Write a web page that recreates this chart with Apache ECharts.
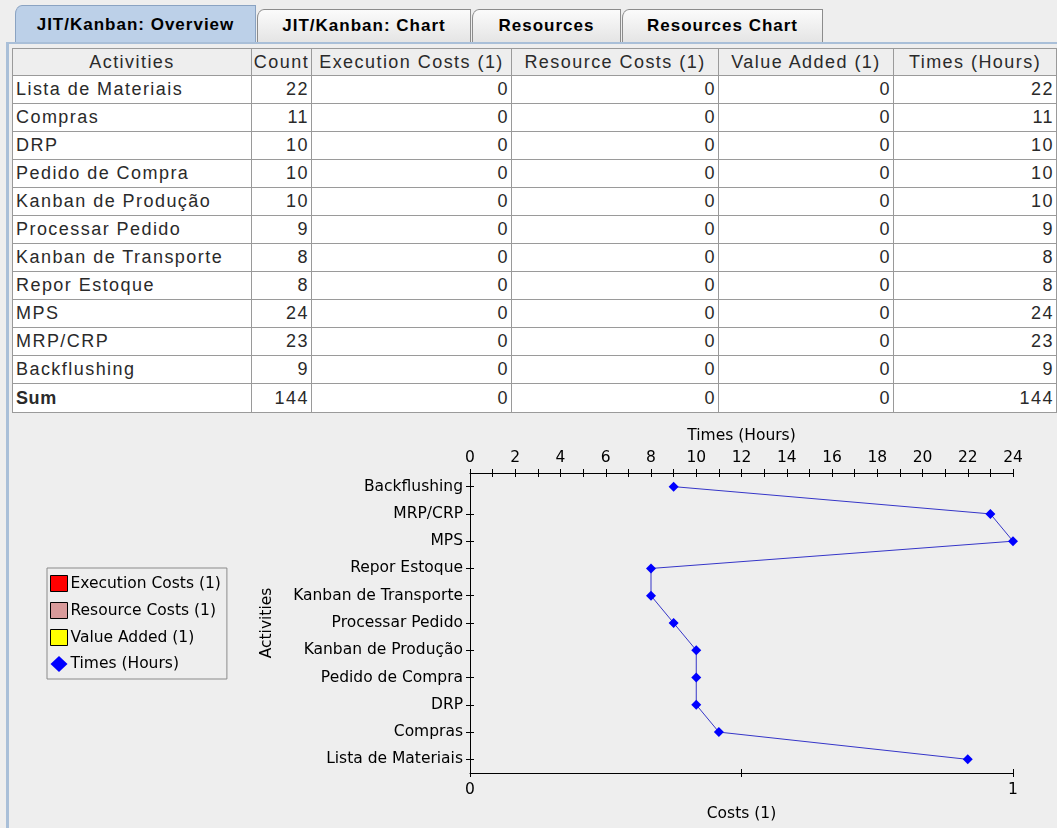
<!DOCTYPE html>
<html>
<head>
<meta charset="utf-8">
<script src="https://cdn.jsdelivr.net/npm/echarts@6/dist/echarts.min.js"></script>
<style>
  html, body { margin:0; padding:0; background:#eeeeee; width:1057px; height:828px; overflow:hidden; }
  body { position:relative; font-family:"Liberation Sans", Arial, sans-serif; }
  .tab { position:absolute; box-sizing:border-box; border:1px solid #8c8c8c; border-bottom:none;
         background:linear-gradient(#fbfbfb,#e4e4e4); font-weight:bold; font-size:17px; letter-spacing:1px;
         color:#000; text-align:center; border-top-left-radius:7px 9px; }
  .tab.sel { background:#bcd0e8; border-color:#8aa3c2; }
  #paneTop { position:absolute; left:6px; top:42px; width:1051px; height:2px; background:#a9bfd8; }
  #paneLeft { position:absolute; left:6px; top:42px; width:3px; height:786px; background:#a9bfd8; }
  table { position:absolute; left:12px; top:48px; width:1044px; border-collapse:collapse; table-layout:fixed;
          font-size:18px; letter-spacing:1.45px; color:#2a2a2a; background:#fff; border:1px solid #7a7a7a; }
  th { font-weight:normal; background:#eeeeee; height:26px; border:1px solid #9a9a9a; padding:0; text-align:center; white-space:nowrap; overflow:hidden; }
  td { height:27px; border:1px solid #9a9a9a; padding:0 3px; white-space:nowrap; overflow:hidden; }
  tr:last-child td { height:28px; }
  td.num { text-align:right; padding-right:2px; }
  tr.sum td.name { font-weight:bold; letter-spacing:0.6px; }
  #chart { position:absolute; left:0; top:415px; width:1057px; height:413px; }
</style>
</head>
<body>
<div id="tabs"></div>
<div id="paneTop"></div>
<div id="paneLeft"></div>
<table id="tbl"></table>
<div id="chart"></div>
<script>
// ---- data ----
const tabNames = ['JIT/Kanban: Overview', 'JIT/Kanban: Chart', 'Resources', 'Resources Chart'];
const columns = ['Activities', 'Count', 'Execution Costs (1)', 'Resource Costs (1)', 'Value Added (1)', 'Times (Hours)'];
const activities = ['Lista de Materiais', 'Compras', 'DRP', 'Pedido de Compra', 'Kanban de Produção',
                    'Processar Pedido', 'Kanban de Transporte', 'Repor Estoque', 'MPS', 'MRP/CRP', 'Backflushing'];
const counts         = [22, 11, 10, 10, 10, 9, 8, 8, 24, 23, 9];
const executionCosts = [0, 0, 0, 0, 0, 0, 0, 0, 0, 0, 0];
const resourceCosts  = [0, 0, 0, 0, 0, 0, 0, 0, 0, 0, 0];
const valueAdded     = [0, 0, 0, 0, 0, 0, 0, 0, 0, 0, 0];
const timesHours     = [22, 11, 10, 10, 10, 9, 8, 8, 24, 23, 9];

// ---- tabs ----
const tabBoxes = [
  {left:15, top:5, width:241, height:39, sel:true},
  {left:257, top:9, width:214, height:34},
  {left:472, top:9, width:149, height:34},
  {left:622, top:9, width:201, height:34}
];
const tabsEl = document.getElementById('tabs');
tabNames.forEach((t, i) => {
  const b = tabBoxes[i];
  const d = document.createElement('div');
  d.className = 'tab' + (b.sel ? ' sel' : '');
  d.style.left = b.left + 'px'; d.style.top = b.top + 'px';
  d.style.width = b.width + 'px'; d.style.height = b.height + 'px';
  d.style.lineHeight = (b.sel ? 38 : 32) + 'px';
  d.textContent = t;
  tabsEl.appendChild(d);
});

// ---- table ----
const colWidths = [239, 60, 200, 207, 175, 163];
const tbl = document.getElementById('tbl');
let html = '<colgroup>' + colWidths.map(w => '<col style="width:' + w + 'px">').join('') + '</colgroup>';
html += '<tr>' + columns.map(c => '<th>' + c + '</th>').join('') + '</tr>';
const sum = a => a.reduce((s, v) => s + v, 0);
activities.forEach((a, i) => {
  html += '<tr><td class="name">' + a + '</td><td class="num">' + counts[i] + '</td><td class="num">' +
          executionCosts[i] + '</td><td class="num">' + resourceCosts[i] + '</td><td class="num">' +
          valueAdded[i] + '</td><td class="num">' + timesHours[i] + '</td></tr>';
});
html += '<tr class="sum"><td class="name">Sum</td><td class="num">' + sum(counts) + '</td><td class="num">' +
        sum(executionCosts) + '</td><td class="num">' + sum(resourceCosts) + '</td><td class="num">' +
        sum(valueAdded) + '</td><td class="num">' + sum(timesHours) + '</td></tr>';
tbl.innerHTML = html;

// ---- chart ----
const chart = echarts.init(document.getElementById('chart'), null, {renderer: 'canvas'});
const font = {fontFamily: 'DejaVu Sans', fontSize: 15.5, color: '#000'};
const blackLine = {color: '#000', width: 1};
const noLabel = {show: false};
chart.setOption({
  animation: false,
  backgroundColor: 'transparent',
  textStyle: font,
  grid: {left: 470, right: 44, top: 58, bottom: 55, containLabel: false},
  legend: {
    orient: 'vertical', left: 47, top: 153,
    padding: [7, 6, 7, 3], itemGap: 10, itemWidth: 17, itemHeight: 16,
    backgroundColor: '#eeeeee', borderColor: '#8a8a8a', borderWidth: 1,
    textStyle: Object.assign({}, font, {padding: [0, 0, 0, -2]}),
    data: [
      {name: 'Execution Costs (1)', icon: 'rect', itemStyle: {color: '#ff0000', borderColor: '#000', borderWidth: 1}},
      {name: 'Resource Costs (1)', icon: 'rect', itemStyle: {color: '#d99a9a', borderColor: '#000', borderWidth: 1}},
      {name: 'Value Added (1)', icon: 'rect', itemStyle: {color: '#ffff00', borderColor: '#000', borderWidth: 1}},
      {name: 'Times (Hours)', icon: 'diamond', itemStyle: {color: '#0000ff'}}
    ]
  },
  xAxis: [
    {
      type: 'value', position: 'top', min: 0, max: 24, interval: 2,
      name: 'Times (Hours)', nameLocation: 'middle', nameGap: 29, nameTextStyle: font,
      axisLine: {show: true, lineStyle: blackLine},
      axisTick: {show: true, length: 4, lineStyle: blackLine},
      minorTick: {show: true, splitNumber: 2, length: 4, lineStyle: blackLine},
      axisLabel: Object.assign({margin: 7}, font),
      splitLine: {show: false}
    },
    {
      type: 'value', position: 'bottom', min: 0, max: 1, interval: 0.5,
      name: 'Costs (1)', nameLocation: 'middle', nameGap: 33, nameTextStyle: font,
      axisLine: {show: true, lineStyle: blackLine},
      axisTick: {show: true, length: 4, lineStyle: blackLine},
      axisLabel: Object.assign({margin: 9, formatter: v => (v === 0 || v === 1) ? String(v) : ''}, font),
      splitLine: {show: false}
    },
    {
      // inner half of the crossing ticks on the Times axis
      type: 'value', position: 'top', min: 0, max: 24, interval: 2,
      axisLine: {show: false},
      axisTick: {show: true, inside: true, length: 4, lineStyle: blackLine},
      minorTick: {show: true, splitNumber: 2, length: 4, lineStyle: blackLine},
      axisLabel: noLabel, splitLine: {show: false}
    },
    {
      // inner half of the crossing ticks on the Costs axis
      type: 'value', position: 'bottom', min: 0, max: 1, interval: 0.5,
      axisLine: {show: false},
      axisTick: {show: true, inside: true, length: 4, lineStyle: blackLine},
      axisLabel: noLabel, splitLine: {show: false}
    }
  ],
  yAxis: [
    {
      type: 'category', data: activities, position: 'left',
      name: 'Activities', nameLocation: 'middle', nameGap: 195, nameTextStyle: font,
      axisLine: {show: true, onZero: false, lineStyle: blackLine},
      axisTick: {show: true, alignWithLabel: true, length: 4, lineStyle: blackLine},
      axisLabel: Object.assign({margin: 7}, font),
      splitLine: {show: false}
    },
    {
      // inner half of the crossing category ticks
      type: 'category', data: activities, position: 'left',
      axisLine: {show: false, onZero: false},
      axisTick: {show: true, inside: true, alignWithLabel: true, length: 4, lineStyle: blackLine},
      axisLabel: noLabel, splitLine: {show: false}
    }
  ],
  series: [
    {name: 'Execution Costs (1)', type: 'bar', xAxisIndex: 1, data: executionCosts, itemStyle: {color: '#ff0000'}},
    {name: 'Resource Costs (1)', type: 'bar', xAxisIndex: 1, data: resourceCosts, itemStyle: {color: '#d99a9a'}},
    {name: 'Value Added (1)', type: 'bar', xAxisIndex: 1, data: valueAdded, itemStyle: {color: '#ffff00'}},
    {
      name: 'Times (Hours)', type: 'line', xAxisIndex: 0, data: timesHours,
      symbol: 'diamond', symbolSize: [10, 10], showSymbol: true,
      itemStyle: {color: '#0000ff'},
      lineStyle: {color: '#3535c8', width: 1}
    }
  ]
});
</script>
</body>
</html>
